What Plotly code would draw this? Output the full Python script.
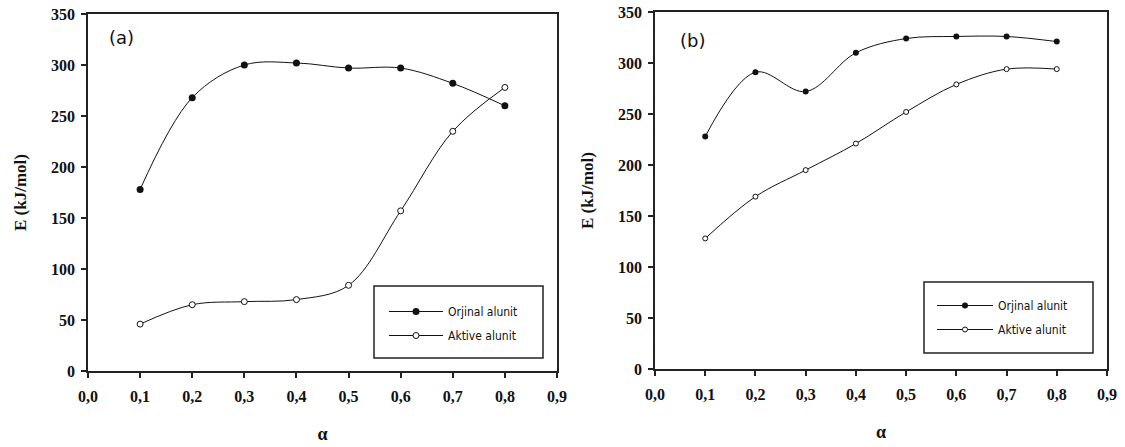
import plotly.graph_objects as go

alpha = [0.1, 0.2, 0.3, 0.4, 0.5, 0.6, 0.7, 0.8]
a_orjinal = [178, 268, 300, 302, 297, 297, 282, 260]
a_aktive = [46, 65, 68, 70, 84, 157, 235, 278]
b_orjinal = [228, 291, 272, 310, 324, 326, 326, 321]
b_aktive = [128, 169, 195, 221, 252, 279, 294, 294]

x_tickvals = [0.0, 0.1, 0.2, 0.3, 0.4, 0.5, 0.6, 0.7, 0.8, 0.9]
x_ticktext = ["0,0", "0,1", "0,2", "0,3", "0,4", "0,5", "0,6", "0,7", "0,8", "0,9"]
y_tickvals = [0, 50, 100, 150, 200, 250, 300, 350]
names = ["Orjinal alunit", "Aktive alunit"]

W, H = 1125, 447
def px(x): return x / W
def py(y): return 1 - y / H

fig = go.Figure()

line = dict(color="#111111", width=1, shape="spline", smoothing=1.0)
# panel a
fig.add_trace(go.Scatter(x=alpha, y=a_orjinal, mode="lines+markers", name=names[0],
                         line=line, marker=dict(symbol="circle", size=7, color="#111111"),
                         xaxis="x", yaxis="y", legend="legend", legendgroup="a1"))
fig.add_trace(go.Scatter(x=alpha, y=a_aktive, mode="lines+markers", name=names[1],
                         line=line, marker=dict(symbol="circle", size=6, color="white",
                                                line=dict(color="#111111", width=1)),
                         xaxis="x", yaxis="y", legend="legend", legendgroup="a2"))
# panel b
fig.add_trace(go.Scatter(x=alpha, y=b_orjinal, mode="lines+markers", name=names[0],
                         line=line, marker=dict(symbol="circle", size=6, color="#111111"),
                         xaxis="x2", yaxis="y2", legend="legend2", legendgroup="b1"))
fig.add_trace(go.Scatter(x=alpha, y=b_aktive, mode="lines+markers", name=names[1],
                         line=line, marker=dict(symbol="circle", size=5, color="white",
                                                line=dict(color="#111111", width=1)),
                         xaxis="x2", yaxis="y2", legend="legend2", legendgroup="b2"))

serif = "Liberation Serif, Times New Roman, serif"
tickfont = dict(family=serif, size=16, color="#111111", weight="bold")
axline = dict(showline=True, linecolor="#222222", linewidth=1.5, mirror=True,
              ticks="outside", ticklen=5, tickwidth=1.5, tickcolor="#222222",
              showgrid=False, zeroline=False, tickfont=tickfont, automargin=False)

xcommon = dict(range=[0, 0.9], tickvals=x_tickvals, ticktext=x_ticktext, ticklabelstandoff=5,
               title=dict(text="α", font=dict(family=serif, size=18, color="#111111", weight="bold"),
                          standoff=23), **axline)
ycommon = dict(range=[0, 350], tickvals=y_tickvals, ticklabelstandoff=3,
               title=dict(text="E (kJ/mol)", font=dict(family=serif, size=17, color="#111111", weight="bold"),
                          standoff=20), **axline)

legfont = dict(family="DejaVu Sans Condensed, DejaVu Sans", size=12, color="#111111")
fig.update_layout(
    width=W, height=H,
    margin=dict(l=0, r=0, t=0, b=0),
    plot_bgcolor="white", paper_bgcolor="white",
    hovermode=False,
    xaxis=dict(domain=[px(88), px(557)], anchor="y", **xcommon),
    yaxis=dict(domain=[py(371), py(14)], anchor="x", **ycommon),
    xaxis2=dict(domain=[px(655), px(1107)], anchor="y2", **xcommon),
    yaxis2=dict(domain=[py(369), py(12)], anchor="x2", **ycommon),
    legend=dict(x=px(384), y=py(297), xanchor="left", yanchor="top", bgcolor="rgba(0,0,0,0)",
                borderwidth=0, tracegroupgap=5, traceorder="grouped", itemwidth=54, font=legfont),
    legend2=dict(x=px(932), y=py(291), xanchor="left", yanchor="top", bgcolor="rgba(0,0,0,0)",
                 borderwidth=0, tracegroupgap=5, traceorder="grouped", itemwidth=56, font=legfont),
    shapes=[
        dict(type="rect", xref="paper", yref="paper", x0=px(374), x1=px(543), y0=py(358), y1=py(286),
             line=dict(color="#222222", width=1.5), fillcolor="rgba(0,0,0,0)"),
        dict(type="rect", xref="paper", yref="paper", x0=px(924), x1=px(1093), y0=py(353), y1=py(282),
             line=dict(color="#222222", width=1.5), fillcolor="rgba(0,0,0,0)"),
    ],
    annotations=[
        dict(text="(a)", x=px(121), y=py(38), xref="paper", yref="paper", showarrow=False,
             xanchor="center", yanchor="middle",
             font=dict(family="DejaVu Sans", size=18, color="#111111")),
        dict(text="(b)", x=px(692), y=py(40), xref="paper", yref="paper", showarrow=False,
             xanchor="center", yanchor="middle",
             font=dict(family="DejaVu Sans", size=18, color="#111111")),
    ],
)

# remove the browser's default 8px page margin so the figure fills the window exactly
fig.write_html("out.html", config={"displayModeBar": False},
               post_script="document.body.style.margin='0';document.body.style.overflow='hidden';")
